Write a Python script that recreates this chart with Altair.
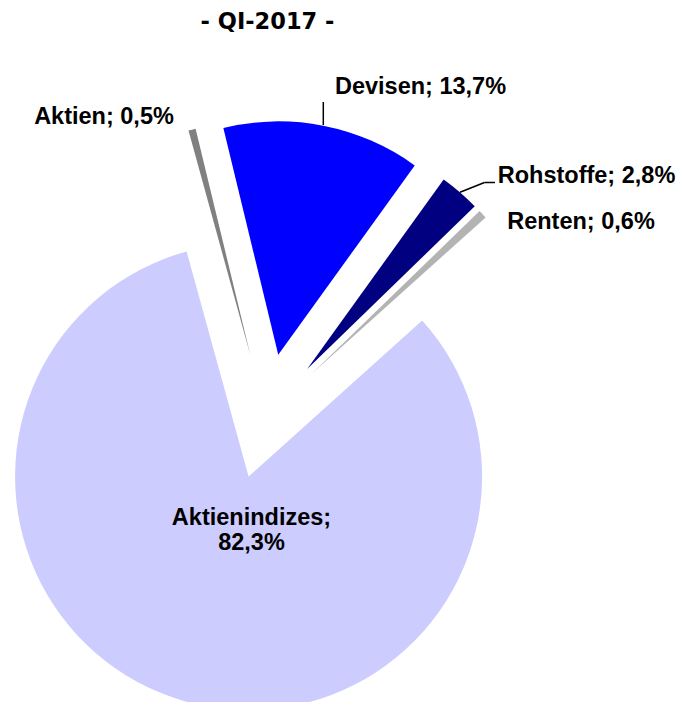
import math
import altair as alt
import pandas as pd

# ---- data ----
categories = ["Aktien", "Devisen", "Rohstoffe", "Renten", "Aktienindizes"]
shares = [0.5, 13.7, 2.8, 0.6, 82.3]
colors = ["#808080", "#0000FF", "#000080", "#B3B3B3", "#CCCCFF"]
title_text = "- QI-2017 -"

# ---- layout (chart pixel coordinates) ----
start_deg = -15.4
CX, CY, R, EXPLODE = 258.2, 408.4, 233.5, 62.7
label_pos = {
    "Aktien": (96, 108.5),
    "Devisen": (412.5, 79),
    "Rohstoffe": (578.5, 167.5),
    "Renten": (573, 214),
}
big_label_pos = (243.5, 517)   # baseline of first line
leader_segments = [
    (315.3, 94, 315.3, 117),
    (452, 184.3, 476.5, 174.5),
    (476.5, 174.5, 487, 174.5),
]
FONT = "Liberation Sans"

a0 = math.radians(start_deg)
total = sum(shares)

pie_df = pd.DataFrame({"cat": categories, "share": shares, "idx": list(range(len(categories)))})

arcs = (
    alt.Chart(pie_df)
    .transform_window(c1="sum(share)", sort=[alt.SortField("idx")], frame=[None, 0])
    .transform_calculate(c0="datum.c1 - datum.share")
    .transform_calculate(mid=f"{a0} + 2*PI*((datum.c0 + datum.c1)/2)/{total}")
    .transform_calculate(
        px=f"{CX} + {EXPLODE}*sin(datum.mid)",
        py=f"{CY} - {EXPLODE}*cos(datum.mid)",
    )
    .mark_arc(radius=R, strokeWidth=0)
    .encode(
        theta=alt.Theta("c0:Q", scale=alt.Scale(domain=[0, total], range=[a0, a0 + 2 * math.pi])),
        theta2="c1:Q",
        x=alt.X("px:Q", scale=None),
        y=alt.Y("py:Q", scale=None),
        color=alt.Color("cat:N", scale=alt.Scale(domain=categories, range=colors), legend=None),
    )
)

def fmt(cat, v):
    sep = "\n" if cat == "Aktienindizes" else " "
    return f"{cat};{sep}{v:.1f}%".replace(".", ",")

small = [c for c in categories if c in label_pos]
lab_df = pd.DataFrame({
    "text": [fmt(c, shares[categories.index(c)]) for c in small],
    "lx": [label_pos[c][0] for c in small],
    "ly": [label_pos[c][1] for c in small],
})

labels = alt.Chart(lab_df).mark_text(
    font=FONT, fontSize=23.5, fontWeight="bold", color="black",
    align="center", baseline="middle",
).encode(
    x=alt.X("lx:Q", scale=None),
    y=alt.Y("ly:Q", scale=None),
    text="text:N",
)

big_df = pd.DataFrame({
    "text": [fmt("Aktienindizes", shares[categories.index("Aktienindizes")])],
    "lx": [big_label_pos[0]],
    "ly": [big_label_pos[1]],
})
big_label = alt.Chart(big_df).mark_text(
    font=FONT, fontSize=23.5, fontWeight="bold", color="black",
    align="center", baseline="alphabetic", lineBreak="\n", lineHeight=25,
).encode(
    x=alt.X("lx:Q", scale=None),
    y=alt.Y("ly:Q", scale=None),
    text="text:N",
)

seg_df = pd.DataFrame(leader_segments, columns=["x1", "y1", "x2", "y2"])
leaders = alt.Chart(seg_df).mark_rule(color="black", strokeWidth=1.5).encode(
    x=alt.X("x1:Q", scale=None), y=alt.Y("y1:Q", scale=None),
    x2="x2:Q", y2="y2:Q",
)

title = alt.Chart(pd.DataFrame({"t": [title_text]})).mark_text(
    font="DejaVu Sans", fontSize=22.5, fontWeight="bold", color="black",
    align="center", baseline="alphabetic",
).encode(
    x=alt.value(259.5), y=alt.value(20.5), text="t:N",
)

chart = (
    alt.layer(arcs, leaders, labels, big_label, title)
    .properties(width=668, height=694, padding=0, autosize="none")
    .configure_view(stroke=None)
)

chart.save("out.html", embed_options={"renderer": "svg", "actions": False})
